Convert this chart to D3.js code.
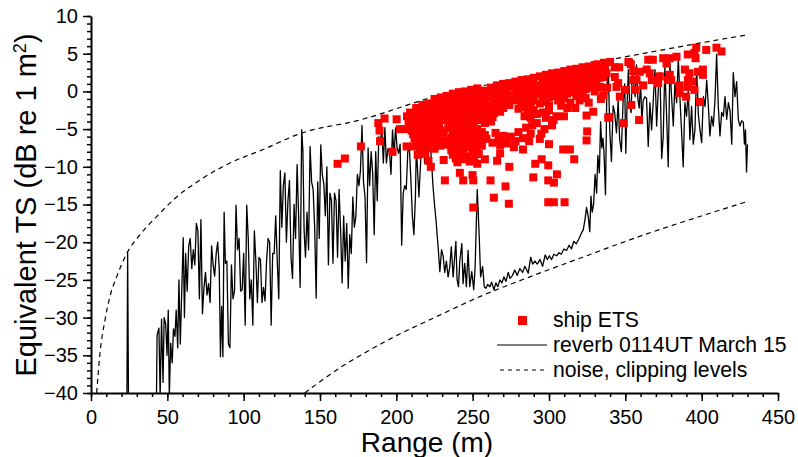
<!DOCTYPE html>
<html>
<head>
<meta charset="utf-8">
<script src="https://cdn.jsdelivr.net/npm/d3@7"></script>
<style>
  body { margin: 0; background: #fff; }
  text { font-family: "Liberation Sans", Arial, sans-serif; fill: #000; }
</style>
</head>
<body>
<svg id="chart" width="798" height="457"></svg>
<script>
// range (m) and equivalent TS (dB)
const reverb = [
  [20,-46],[23.4,-46],[24.0,-21.4],[24.7,-46],[42.6,-46],
  [43.3,-32.3],[44.5,-31.4],[45.3,-40.5],[46.2,-30.2],[47.2,-38.6],[47.9,-30.0],[48.9,-30.8],[49.8,-35.0],
  [50.6,-29.0],[51.3,-40.5],[52.2,-33.4],[53.2,-36.0],[54.0,-31.5],[55.0,-32.5],[55.8,-29.0],[56.8,-34.0],
  [57.6,-25.0],[58.5,-33.5],[59.3,-27.5],[60.4,-19.4],[61.2,-30.0],[62.0,-21.5],[63.0,-26.5],[64.0,-20.5],
  [65.0,-19.5],[66.0,-23.5],[67.0,-21.0],[68.0,-23.0],[69.0,-17.5],[70.0,-18.5],[71.0,-27.5],[72.0,-17.0],
  [73.0,-29.5],[74.0,-26.0],[75.0,-24.0],[76.0,-27.0],[77.0,-25.5],[78.0,-28.0],[79.0,-20.5],[80.0,-23.0],
  [81.0,-24.5],[82.0,-21.5],[83.0,-20.0],[84.0,-23.5],[84.8,-35.2],[85.6,-28.5],[86.4,-35.2],[87.2,-16.0],
  [88.0,-22.8],[89.0,-22.5],[90.0,-33.5],[91.0,-34.0],[92.0,-23.0],[93.0,-27.5],[94.0,-26.5],[95.0,-15.1],
  [96.0,-21.0],[97.0,-19.5],[98.0,-26.5],[99.0,-26.3],[100.0,-21.5],[101.0,-31.0],[102.0,-15.1],[103.0,-19.5],
  [104.0,-27.5],[105.0,-25.0],[106.0,-31.0],[107.0,-18.5],[108.0,-22.5],[109.0,-28.0],[110.0,-22.0],
  [111.0,-22.3],[112.0,-28.0],[113.0,-26.0],[114.0,-27.8],[115.0,-22.5],[116.0,-19.5],[117.0,-20.0],
  [118.0,-31.0],[119.0,-21.5],[120.0,-21.5],[121.0,-16.5],[122.0,-22.5],
  [123,-27.5],[124,-10.5],[125,-18.0],[126,-12.5],[127,-10.8],[128,-20.0],[129,-14.5],[130,-11.8],
  [131,-22.0],[132,-24.8],[133,-15.0],[134,-19.5],[135,-9.7],[136,-16.5],[137,-26.0],[138,-5.1],
  [138.8,-7.9],[139.6,-18.5],[140.5,-22.0],[141.5,-16.0],[142.5,-21.0],[143.5,-7.3],[144.5,-12.0],
  [145.5,-13.0],[146.5,-18.0],[147.5,-27.4],[148.5,-12.0],[149.5,-19.5],[150.5,-7.1],[151.5,-11.0],
  [152.5,-12.3],[153.5,-16.5],[154.5,-10.0],[155.5,-23.0],[156.5,-13.5],[157.5,-14.5],[158.5,-22.8],
  [159.5,-13.5],[160.5,-14.5],[161.5,-22.0],[162.5,-13.0],[163.5,-18.5],[164.5,-25.4],[165.5,-16.5],
  [166.5,-22.5],[167.5,-17.5],[168.5,-26.1],[169.5,-19.0],[170.5,-21.5],[171.5,-14.0],[172.5,-18.0],
  [173.5,-16.5],[174.5,-11.0],[175.5,-12.5],[176.5,-10.5],[177.5,-4.5],[178.5,-12.0],[179.5,-14.0],
  [180.5,-22.7],[181.5,-7.5],[182.5,-12.5],[183.5,-8.0],[184.5,-10.8],[185.5,-19.0],[186.5,-8.0],
  [187.5,-14.5],[188.5,-6.0],[189.5,-6.8],[190.5,-5.0],[191.5,-9.5],[192.5,-4.8],[193.5,-9.5],
  [194.5,-7.6],[195.5,-8.0],[196.5,-11.0],[197.5,-5.1],[198.5,-8.5],[199.5,-4.8],[200.5,-7.5],
  [201.5,-8.2],[202.5,-7.0],[203.5,-20.4],[204.5,-13.5],[205.5,-12.5],[206.5,-13.0],[207.5,-8.0],
  [208.5,-7.3],[209.5,-11.5],[210.5,-16.5],[211.5,-19.0],[212.5,-14.0],[213.1,-7.3],[214.8,-14.0],
  [216.0,-9.0],[217.5,-5.5],[218.5,-9.5],[219.5,-7.0],[220.7,-8.6],[222.0,-6.0],[223.0,-9.1],
  [224.0,-12.5],[225.0,-15.0],[226.0,-17.1],[227.5,-21.0],[228.5,-23.9],[229.6,-21.0],[230.7,-21.9],
  [231.7,-24.0],[232.8,-22.5],[233.9,-24.6],[235.0,-23.3],[236.0,-20.6],[237.2,-24.6],[239.0,-19.9],
  [239.8,-25.0],[240.7,-25.9],[241.6,-22.4],[242.9,-20.2],[243.7,-25.5],[244.8,-22.8],[245.9,-25.9],
  [247.0,-21.1],[248.1,-25.9],[249.4,-23.9],[250.7,-26.3],[251.6,-23.3],[253.0,-13.0],[254.3,-19.3],
  [255.2,-24.6],[256.5,-23.2],[257.6,-25.9],[258.7,-26.1],[259.8,-25.6],[261.3,-25.9],[262.4,-25.3],
  [263.9,-26.3],[265.2,-25.4],[266.5,-25.9],[267.8,-25.0],[269.1,-25.4],[270.5,-24.6],[271.8,-25.2],
  [273.3,-24.0],[274.4,-24.8],[276.1,-24.4],[277.6,-23.7],[279.2,-24.4],[280.9,-23.5],[282.7,-24.0],
  [284.2,-23.2],[286.4,-24.1],[288.0,-22.0],[289.3,-22.9],[290.8,-22.5],[292.3,-22.9],[294.1,-22.3],
  [295.8,-23.2],[297.5,-21.7],[298.9,-22.3],[300.2,-21.8],[301.7,-22.3],[303.2,-21.6],[305.0,-21.8],
  [306.5,-21.4],[308.0,-21.6],[309.8,-20.9],[311.5,-21.1],[313.2,-20.4],[314.7,-20.9],[316.2,-19.9],
  [317.9,-20.2],[319.7,-19.5],[321.2,-18.8],[322.4,-18.4],[323.5,-17.1],[324.6,-15.4],[325.7,-16.6],
  [326.7,-18.6],[327.5,-13.9],[328.3,-16.0],[329.2,-15.0],[330.2,-11.0],[331.2,-13.5],[332.0,-8.5],
  [333.0,-10.8],[333.8,-4.0],[334.6,-7.5],[335.3,-6.2],[336.0,-8.0],[337.0,-13.7],[337.8,-1.0],
  [338.7,4.2],[339.8,-5.1],[340.9,-9.3],[342.0,-1.9],[343.0,-2.8],[344.2,-5.5],[345.3,-1.2],[346.3,-6.4],
  [347.4,-8.0],[348.5,-1.5],[349.6,1.0],[350.3,-8.2],[351.1,-2.0],[352.0,2.9],[352.9,-2.0],[353.8,-2.8],
  [354.7,4.2],[355.6,0.9],[356.4,-0.7],[357.3,3.5],[358.2,-1.0],[359.1,-2.2],[360.0,1.3],[360.8,-4.1],
  [361.7,-1.2],[362.8,-0.7],[363.9,-0.9],[365.0,-7.3],[366.1,-1.5],[367.2,-5.1],[368.3,-1.2],[369.4,2.9],
  [370.5,-4.6],[371.6,0.3],[372.7,2.5],[373.8,-8.9],[374.8,-6.1],[375.9,3.3],[377.0,-3.0],[378.1,-10.0],
  [379.2,3.7],[380.3,-0.7],[381.4,-4.6],[382.5,1.1],[383.6,-1.5],[384.7,4.4],[385.8,-1.0],[386.8,-5.1],
  [387.9,-10.0],[389.0,-1.5],[390.1,-3.3],[391.2,0.2],[392.3,-6.4],[393.4,-2.0],[394.5,-7.0],[395.6,-5.1],
  [396.7,3.0],[397.8,-3.0],[398.9,-5.1],[400.0,-6.8],[401.1,-0.7],[402.2,-2.0],[403.3,1.5],[404.4,-2.0],
  [405.4,-5.9],[406.5,-3.3],[407.6,-4.6],[408.7,-1.2],[409.8,4.9],[410.9,-2.0],[412.0,-5.9],[413.1,-2.8],
  [414.2,-3.3],[415.3,-0.7],[416.4,-3.7],[417.5,-1.5],[418.6,-2.6],[419.7,-7.0],[420.7,2.5],[421.8,-0.7],
  [422.9,1.3],[424.0,-3.7],[425.1,-4.6],[426.2,-3.9],[427.3,-4.1],[428.0,-7.0],[428.7,-5.1],[429.4,-10.7],
  [430.0,-7.0]
];

const shipETS = [
  [161.5,-9.6],[166.3,-8.9],[176.8,-7.3],[188.2,-4.2],[189.0,-5.2],[189.3,-6.6],[192.3,-3.6],[197.5,-8.0],
  [200.2,-3.7],[202.4,-5.0],[205.0,-5.0],[206.7,-7.3],[211.0,-7.3],[216.4,-7.3],[221.0,-9.2],[222.6,-10.0],
  [209,-2.8],[213,-2.2],[217,-1.8],[221,-1.6],[225,-1.0],[229,-0.8],
  [208,-4.0],[212,-3.6],[216,-3.2],[220,-2.9],[224,-2.4],[228,-2.0],
  [210,-5.2],[214,-4.6],[218,-4.3],[222,-4.0],[226,-3.4],[230,-3.0],
  [212,-6.2],[216,-5.8],[220,-5.5],[224,-5.0],[228,-4.6],
  [214,-8.4],[218,-6.8],[223,-6.5],[227,-6.0],[231,-5.5],
  [219,-8.3],[225,-7.6],[229,-7.2],[233,-7.0],
  [207,-3.3],[211,-2.9],[215,-2.6],[219,-2.3],[223,-1.9],[227,-1.5],[231,-1.2],
  [209,-4.6],[213,-4.2],[217,-3.8],[221,-3.4],[225,-3.0],[229,-2.6],
  [211,-5.7],[215,-5.3],[219,-4.9],[223,-4.5],[227,-4.0],[231,-3.7],
  [213,-7.0],[217,-6.4],[221,-6.1],[225,-5.6],[229,-5.2],
  [216,-7.8],[222,-7.5],[227,-7.0],[231,-6.5],
  [233,-0.6],[237,-0.3],[241,-0.1],[245,0.0],[249,0.2],[253,0.4],[257,0.1],
  [232,-1.8],[236,-1.5],[240,-1.2],[244,-1.4],[248,-1.0],[252,-0.9],[256,-1.2],[260,-0.8],
  [234,-2.8],[238,-2.6],[242,-2.3],[246,-2.5],[250,-2.1],[254,-2.2],[258,-2.0],
  [232,-3.8],[236,-3.9],[240,-3.5],[244,-3.6],[248,-3.2],[252,-3.4],[256,-3.1],[260,-2.9],
  [234,-4.9],[238,-5.0],[242,-4.6],[250,-4.4],[258,-4.2],
  [236,-6.1],[240,-6.0],[244,-5.7],[248,-5.9],[252,-5.6],[256,-5.4],
  [235,-7.1],[239,-7.3],[243,-6.9],[247,-7.0],[251,-6.7],[255,-6.6],[259,-6.3],
  [237,-8.4],[242,-8.1],[246,-8.6],[250,-7.9],[254,-8.3],
  [231,-9.1],[240,-9.4],[248,-9.3],[253,-9.6],[258,-9.0],
  [235,-1.0],[239,-0.8],[243,-0.6],[247,-0.5],[251,-0.3],[255,-0.4],[259,-0.2],
  [234,-2.3],[238,-2.0],[242,-1.8],[246,-1.9],[250,-1.6],[254,-1.5],[258,-1.4],
  [233,-3.3],[237,-3.2],[241,-2.9],[245,-3.0],[249,-2.7],[253,-2.8],[257,-2.6],
  [235,-4.4],[239,-4.2],[243,-4.1],[247,-4.2],[251,-3.9],[255,-3.8],[259,-3.6],
  [237,-5.5],[241,-5.3],[245,-5.2],[249,-5.1],[253,-5.0],
  [234,-6.6],[238,-6.6],[242,-6.4],[246,-6.3],[250,-6.2],[254,-6.0],[258,-5.8],
  [236,-7.8],[240,-7.7],[244,-7.6],[248,-7.4],[252,-7.3],[256,-7.2],
  [239,-8.9],[244,-9.0],[251,-8.8],
  [231.8,-11.8],[241.6,-10.8],[243.8,-11.8],[249.9,-11.1],[250.4,-11.8],[250.4,-15.4],
  [262,0.5],[266,0.8],[270,1.0],[274,1.1],[278,1.3],[282,1.5],[286,1.6],[290,1.8],
  [263,-0.7],[267,-0.4],[271,-0.2],[275,-0.5],[279,0.0],[283,0.2],[287,0.4],[291,0.6],
  [262,-1.9],[266,-1.6],[270,-1.5],[274,-1.8],[278,-1.2],[282,-1.0],[286,-0.8],[290,-0.6],
  [264,-2.9],[268,-2.7],[280,-2.3],[284,-2.1],[288,-1.9],
  [262,-4.0],[284,-3.3],[288,-3.5],[292,-3.0],
  [265,-5.5],[270,-5.9],[275,-6.0],[280,-5.4],[285,-4.8],[289,-4.5],
  [263,-6.8],[268,-7.1],[272,-6.9],[277,-7.4],[283,-7.7],[287,-6.6],
  [264,0.1],[268,0.3],[272,0.5],[276,0.6],[280,0.8],[284,0.9],[288,1.1],
  [264,-1.2],[268,-1.0],[272,-0.9],[276,-1.0],[280,-0.6],[284,-0.4],[288,-0.2],[292,0.0],
  [266,-2.3],[270,-2.2],[282,-1.7],[286,-1.4],[290,-1.2],
  [263,-3.4],[286,-2.7],[290,-2.5],
  [267,-6.3],[273,-6.4],[278,-6.6],[283,-6.2],[288,-5.6],
  [268,-8.2],[274,-10.0],[266,-9.2],[261.7,-11.8],[263.9,-14.1],[271.5,-12.6],[273.7,-14.9],
  [294,2.0],[298,2.2],[302,2.4],[306,2.5],[310,2.7],[314,2.9],[318,3.0],[322,3.2],[326,3.3],[330,3.5],
  [293,0.8],[297,1.0],[301,1.2],[305,1.3],[309,1.5],[313,1.6],[317,1.8],[321,2.0],[325,2.1],[329,2.3],[333,2.5],
  [295,-0.4],[299,-0.2],[303,0.0],[307,0.2],[311,0.3],[315,0.5],[319,0.7],[323,0.9],[327,1.0],[331,1.2],
  [294,-1.6],[298,-1.4],[306,-1.2],[310,-0.9],[318,-0.6],[322,-0.3],[330,0.0],
  [296,1.6],[300,1.8],[304,1.9],[308,2.1],[312,2.2],[316,2.4],[320,2.6],[324,2.7],[328,2.9],[332,3.0],
  [297,0.3],[301,0.5],[305,0.7],[309,0.8],[313,1.0],[317,1.2],[321,1.4],[325,1.5],[329,1.7],[333,1.8],
  [296,-1.0],[300,-0.8],[304,-0.6],[308,-0.4],[312,-0.3],[316,-0.1],[320,0.1],[324,0.3],[328,0.5],[332,0.6],
  [300,-1.9],[308,-1.9],[314,-1.5],[320,-1.2],[324,-0.9],
  [296,-2.8],[300,-2.5],[304.8,-3.3],[309.8,-3.3],[312,-2.2],[317.2,-2.2],[326,-1.5],
  [298,-3.5],[303,-3.8],[295,-5.6],
  [292,-4.2],[297,-5.0],[302,-4.5],[294,-6.3],[300,-7.0],
  [295.2,-9.0],[299.5,-9.8],[291,-9.6],[289.7,-11.4],[299.5,-11.8],[303.2,-12.1],[305.2,-11.0],
  [299.5,-14.7],[303.2,-14.7],[310.2,-14.7],[309.3,-7.7],[313.7,-7.7],[316.5,-9.0],
  [324.6,-3.2],[325,-5.3],[324.6,-6.5],[329,-2.7],[339.2,-3.4],
  [332,3.6],[336,3.8],[334,-1.0],[338,0.5],[340,3.9],
  [333.3,0.6],[335.5,1.9],[337.7,2.4],[336.6,3.2],[335.5,-0.5],[338.8,-3.5],[343.1,1.9],[344.2,0.6],
  [343,3.2],[346,3.2],[345.3,1.1],[346.4,-0.7],[349.7,0.2],[349,-4.2],[352,3.9],[353.6,3.6],[355.2,2.7],
  [353.9,-1.8],[355.2,1.5],[356.3,0.2],[357.3,1.5],[359.5,2.6],[359,-3.8],[361.7,0.8],[364,2.9],[365,4.2],
  [366,2.4],[367.3,1.5],[368,4.2],[371.5,1.1],[372.6,2.0],[374.8,4.4],[377,3.7],[378,1.5],[379.1,4.4],
  [379.1,2.2],[380,1.5],[383.5,4.6],[385.6,-0.2],[385.6,0.8],[389,2.9],[389.8,-0.7],[390.9,4.9],[390.9,0.6],
  [391,1.5],[392,2.4],[393.9,1.3],[395.3,5.1],[395.3,0.2],[396.4,5.8],[396,4.4],[397.5,2.6],[398.9,-1.4],
  [400.8,2.9],[400.8,2.2],[403,5.5],[409.7,5.8],[413,5.3]
];

// noise level (upper) and clipping level (lower) curves
const noiseLevel = [
  [3.7,-40],[5.9,-34.7],[9.2,-30.3],[12.4,-27.2],[16.8,-24.6],[23.4,-21.5],[32.1,-19.0],[43,-16.6],
  [56.1,-14.0],[71.4,-11.75],[91,-9.5],[112.8,-7.7],[137,-5.6],[176,-3.8],[228.5,-0.5],[280,1.7],
  [310,3.0],[340,4.2],[377,5.6],[427,7.4],[430,7.5]
];
const clipLevel = [
  [140,-40],[150,-38.5],[165,-36.4],[180,-34.6],[200,-32.4],[225,-30.0],[252.6,-27.4],[290,-24.4],
  [322,-22.0],[364,-18.9],[394,-16.9],[430,-14.6]
];

const xMajor = [0, 50, 100, 150, 200, 250, 300, 350, 400, 450];
const yMajor = [-40, -35, -30, -25, -20, -15, -10, -5, 0, 5, 10];
const legendLabels = ['ship ETS', 'reverb 0114UT March 15', 'noise, clipping levels'];

const svg = d3.select('#chart');
svg.append('rect').attr('width', 798).attr('height', 457).attr('fill', '#fff');

const x = d3.scaleLinear().domain([0, 450]).range([91, 778]);
const y = d3.scaleLinear().domain([-40, 10]).range([393, 16]);

svg.append('defs').append('clipPath').attr('id', 'plot')
  .append('rect').attr('x', 91).attr('y', 16).attr('width', 687).attr('height', 377);

const plot = svg.append('g').attr('clip-path', 'url(#plot)');

const line = d3.line().x(d => x(d[0])).y(d => y(d[1]));
const smooth = d3.line().x(d => x(d[0])).y(d => y(d[1])).curve(d3.curveMonotoneX);

plot.append('path')
  .attr('d', line(reverb))
  .attr('fill', 'none')
  .attr('stroke', '#000')
  .attr('stroke-width', 1.3)
  .attr('stroke-linejoin', 'round');

[noiseLevel, clipLevel].forEach(c => {
  plot.append('path')
    .attr('d', smooth(c))
    .attr('fill', 'none')
    .attr('stroke', '#000')
    .attr('stroke-width', 1.2)
    .attr('stroke-dasharray', '5,4');
});

const sq = 8;
plot.selectAll('rect.ets')
  .data(shipETS)
  .enter()
  .append('rect')
  .attr('class', 'ets')
  .attr('x', d => x(d[0]) - sq / 2)
  .attr('y', d => y(d[1]) - sq / 2)
  .attr('width', sq)
  .attr('height', sq)
  .attr('fill', '#ff0000');

// axes with minor ticks
svg.append('g')
  .attr('transform', 'translate(0,393)')
  .call(d3.axisBottom(x).tickValues(d3.range(0, 451, 10)).tickSize(4).tickFormat(''))
  .call(g => g.select('.domain').remove())
  .selectAll('line').attr('stroke-width', 1.5);

svg.append('g')
  .attr('transform', 'translate(91,0)')
  .call(d3.axisLeft(y).tickValues(d3.range(-40, 11, 1)).tickSize(4).tickFormat(''))
  .call(g => g.select('.domain').remove())
  .selectAll('line').attr('stroke-width', 1.5);

const xAxis = svg.append('g')
  .attr('transform', 'translate(0,393)')
  .call(d3.axisBottom(x).tickValues(xMajor).tickSize(8).tickSizeOuter(0).tickPadding(9));

const yAxis = svg.append('g')
  .attr('transform', 'translate(91,0)')
  .call(d3.axisLeft(y).tickValues(yMajor).tickSize(8).tickSizeOuter(0).tickPadding(5));

[xAxis, yAxis].forEach(g => {
  g.select('.domain').attr('stroke-width', 2);
  g.selectAll('line').attr('stroke-width', 1.5);
  g.selectAll('text')
    .attr('font-family', '"Liberation Sans", Arial, sans-serif')
    .attr('font-size', 20)
    .attr('fill', '#000');
});

// axis titles
svg.append('text')
  .attr('x', 427).attr('y', 452)
  .attr('text-anchor', 'middle')
  .attr('font-size', 28)
  .text('Range (m)');

const yTitle = svg.append('text')
  .attr('transform', 'translate(36,205) rotate(-90)')
  .attr('text-anchor', 'middle')
  .attr('font-size', 29);
yTitle.append('tspan').text('Equivalent TS (dB re 1 m');
yTitle.append('tspan').attr('baseline-shift', 'super').attr('font-size', 18).text('2');
yTitle.append('tspan').text(')');

// legend
const leg = svg.append('g');
leg.append('rect').attr('x', 518).attr('y', 316).attr('width', 9).attr('height', 9).attr('fill', '#ff0000');
leg.append('line').attr('x1', 497).attr('x2', 547).attr('y1', 345).attr('y2', 345)
  .attr('stroke', '#000').attr('stroke-width', 1.2);
leg.append('line').attr('x1', 500).attr('x2', 545).attr('y1', 370).attr('y2', 370)
  .attr('stroke', '#000').attr('stroke-width', 1.2).attr('stroke-dasharray', '4,4');
leg.selectAll('text')
  .data(legendLabels)
  .enter()
  .append('text')
  .attr('x', 553)
  .attr('y', (d, i) => 327 + i * 25)
  .attr('font-size', 21.2)
  .text(d => d);
</script>
</body>
</html>
